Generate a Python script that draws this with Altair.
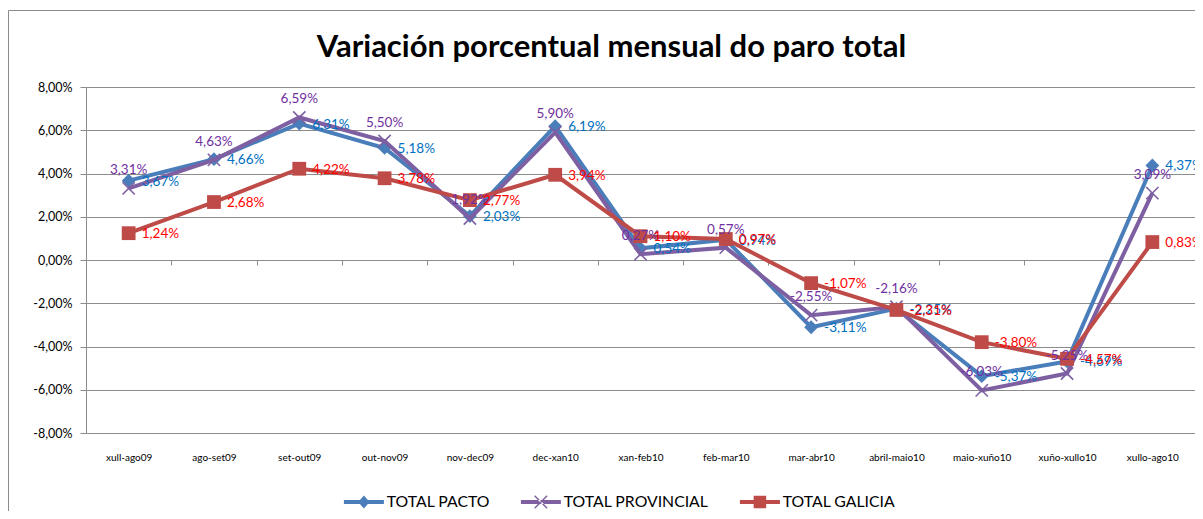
import altair as alt
import pandas as pd

categories = ["xull-ago09", "ago-set09", "set-out09", "out-nov09", "nov-dec09",
              "dec-xan10", "xan-feb10", "feb-mar10", "mar-abr10", "abril-maio10",
              "maio-xuño10", "xuño-xullo10", "xullo-ago10"]
series_names = ["TOTAL PACTO", "TOTAL PROVINCIAL", "TOTAL GALICIA"]
pacto = [3.67, 4.66, 6.31, 5.18, 2.03, 6.19, 0.54, 0.94, -3.11, -2.25, -5.37, -4.69, 4.37]
provincial = [3.31, 4.63, 6.59, 5.50, 1.92, 5.90, 0.27, 0.57, -2.55, -2.16, -6.03, -5.25, 3.09]
galicia = [1.24, 2.68, 4.22, 3.78, 2.77, 3.94, 1.10, 0.97, -1.07, -2.31, -3.80, -4.57, 0.83]
y_ticks = [-8, -6, -4, -2, 0, 2, 4, 6, 8]

line_colors = ["#4A7EBB", "#7D5FA2", "#BE4B48"]
label_colors = ["#0070C0", "#7030A0", "#FF0000"]

rows = []
for s, vals in zip(series_names, [pacto, provincial, galicia]):
    for c, v in zip(categories, vals):
        rows.append({"cat": c, "series": s, "v": v})
df = pd.DataFrame(rows)

W, H = 1109, 346
STEP = W / len(categories)
FONT = "Lato"
GRID = "#8C8C8C"

fmt = "(datum.{f} < 0 ? '-' : '') + replace(format(abs(datum.{f}), '.2f'), '.', ',') + '%'"

x_enc = alt.X("cat:N", sort=categories, title=None,
              scale=alt.Scale(type="point", padding=0.5),
              axis=alt.Axis(orient="bottom", offset=-H / 2, domain=True, domainColor=GRID,
                            ticks=True, tickColor=GRID, tickSize=5, tickOffset=-STEP / 2,
                            labelOffset=STEP / 2, labelPadding=187, labelAngle=0,
                            labelFont=FONT, labelFontSize=10, labelColor="#000000",
                            grid=False))
y_enc = alt.Y("v:Q", title=None,
              scale=alt.Scale(domain=[-8, 8], nice=False, zero=False),
              axis=alt.Axis(values=y_ticks, labelExpr=fmt.format(f="value"),
                            grid=True, gridColor=GRID, gridWidth=1,
                            domain=True, domainColor=GRID, ticks=True, tickColor=GRID,
                            tickSize=6, labelPadding=8, labelFont=FONT, labelFontSize=12.5,
                            labelColor="#000000"))

base = alt.Chart(df).transform_calculate(label=fmt.format(f="v"))

layers = []
marker_specs = [
    dict(shape="diamond", size=190, filled=True, opacity=1),
    dict(shape="M-1,-1L1,1M-1,1L1,-1", size=150, filled=False, strokeWidth=1.6, opacity=1),
    dict(shape="square", size=190, filled=True, opacity=1),
]
for s, col, spec in zip(series_names, line_colors, marker_specs):
    sub = base.transform_filter(alt.datum.series == s)
    layers.append(sub.mark_line(color=col, strokeWidth=4).encode(x=x_enc, y=y_enc))
    layers.append(sub.mark_point(color=col, **spec).encode(x=x_enc, y=y_enc))

label_specs = [
    dict(align="left", baseline="middle", dx=13, dy=1),
    dict(align="center", baseline="bottom", dx=0, dy=-11),
    dict(align="left", baseline="middle", dx=13, dy=1),
]
for s, col, spec in zip(series_names, label_colors, label_specs):
    sub = base.transform_filter(alt.datum.series == s)
    layers.append(sub.mark_text(color=col, font=FONT, fontSize=13.5, **spec)
                  .encode(x=x_enc, y=y_enc, text="label:N"))

# legend symbols: a line with the series marker (unit = 5 px, symbolSize 100)
leg_paths = [
    "M-4,-0.4H4V0.4H-4Z M0,-1.3L1.15,0L0,1.3L-1.15,0Z",
    "M-4,-0.4H4V0.4H-4Z M-1.35,-1.15L1.15,1.35L1.35,1.15L-1.15,-1.35Z "
    "M-1.35,1.15L1.15,-1.35L1.35,-1.15L-1.15,1.35Z",
    "M-4,-0.4H4V0.4H-4Z M-1.25,-1.25H1.25V1.25H-1.25Z",
]
legend_layer = base.transform_filter("false").mark_point(filled=True, opacity=1).encode(
    x=x_enc, y=y_enc,
    color=alt.Color("series:N", scale=alt.Scale(domain=series_names, range=line_colors),
                    legend=alt.Legend(title=None, orient="none", direction="horizontal",
                                      legendX=270, legendY=407, columns=3,
                                      symbolSize=100, symbolStrokeWidth=0,
                                      symbolOpacity=1, labelOffset=15,
                                      columnPadding=30, labelFont=FONT,
                                      labelFontSize=15.8, labelColor="#000000")),
    shape=alt.Shape("series:N", scale=alt.Scale(domain=series_names, range=leg_paths)),
)
layers.append(legend_layer)

border = alt.Chart(alt.Data(values=[{}])).mark_rect(
    fillOpacity=0, stroke="#8C8C8C", strokeWidth=1).encode(
    x=alt.value(-77.5), x2=alt.value(W + 40), y=alt.value(-76.5), y2=alt.value(H + 200))

chart = alt.layer(border, *layers).properties(
    width=W, height=H,
    title=alt.TitleParams("Variación porcentual mensual do paro total", font=FONT,
                          fontSize=31, fontWeight="bold", color="#000000",
                          anchor="middle", frame="group", dx=-29, dy=54, offset=0),
    autosize=alt.AutoSizeParams(type="none"),
    padding={"left": 78, "top": 79, "right": 0, "bottom": 78},
).configure_view(stroke=None).configure(background="white")

chart.save("out.html", embed_options={"renderer": "svg", "actions": False})
